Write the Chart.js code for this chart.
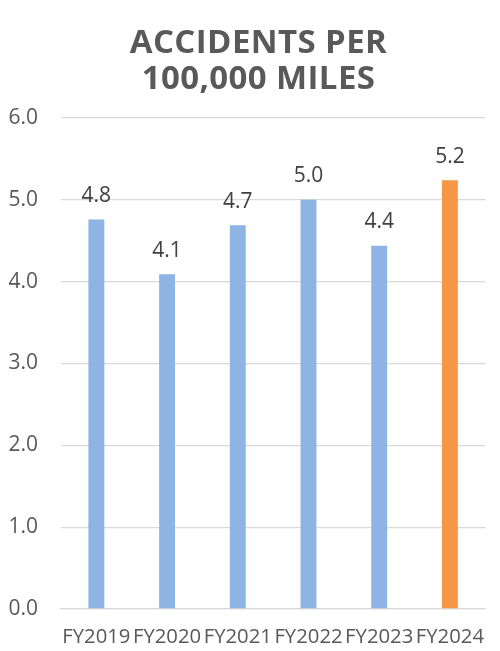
<!DOCTYPE html>
<html>
<head>
<meta charset="utf-8">
<script src="https://cdn.jsdelivr.net/npm/chart.js@4/dist/chart.umd.min.js"></script>
<style>
  html, body { margin: 0; padding: 0; background: #ffffff; }
  #wrap { width: 500px; height: 651px; position: relative; }
</style>
</head>
<body>
<div id="wrap"><canvas id="chart" width="500" height="651"></canvas></div>
<script>
// Fiscal years shown on the x axis
const categories = ['FY2019', 'FY2020', 'FY2021', 'FY2022', 'FY2023', 'FY2024'];
// Accidents per 100,000 miles for each fiscal year
const accidentRates = [4.76, 4.09, 4.69, 5.00, 4.44, 5.24];
// Title lines
const titleLines = ['ACCIDENTS PER', '100,000 MILES'];

const BLUE = '#8EB4E3';
const ORANGE = '#F79646';
const barColors = categories.map((c, i) => i === categories.length - 1 ? ORANGE : BLUE);

const FONT = "'Open Sans', 'Liberation Sans', sans-serif";

// Two-line bold title centred over the plot
const titlePlugin = {
  id: 'twoLineTitle',
  afterDraw(chart) {
    const ctx = chart.ctx;
    ctx.save();
    ctx.fillStyle = '#595959';
    ctx.font = "bold 33px " + FONT;
    if ('letterSpacing' in ctx) ctx.letterSpacing = '0.4px';
    ctx.textAlign = 'center';
    ctx.textBaseline = 'alphabetic';
    ctx.fillText(titleLines[0], 258.5, 52.7);
    ctx.fillText(titleLines[1], 258.5, 89.3);
    ctx.restore();
  }
};

// Value labels above each bar
const valueLabels = {
  id: 'valueLabels',
  afterDatasetsDraw(chart) {
    const ctx = chart.ctx;
    const meta = chart.getDatasetMeta(0);
    const values = chart.data.datasets[0].data;
    ctx.save();
    ctx.fillStyle = '#404040';
    ctx.font = "21px " + FONT;
    ctx.textAlign = 'center';
    ctx.textBaseline = 'alphabetic';
    meta.data.forEach((bar, i) => {
      ctx.fillText(values[i].toFixed(1), bar.x, bar.y - 17.5);
    });
    ctx.restore();
  }
};

new Chart(document.getElementById('chart'), {
  type: 'bar',
  data: {
    labels: categories,
    datasets: [{
      data: accidentRates,
      backgroundColor: barColors,
      borderWidth: 0,
      categoryPercentage: 1.0,
      barPercentage: 0.225
    }]
  },
  options: {
    responsive: false,
    animation: false,
    layout: { padding: { top: 118, left: 0, right: 0, bottom: 0 } },
    plugins: {
      legend: { display: false },
      title: { display: false },
      tooltip: { enabled: false }
    },
    scales: {
      x: {
        grid: { display: false, drawTicks: false },
        border: { display: true, color: '#D9D9D9', width: 1.3 },
        ticks: {
          color: '#595959',
          font: { family: FONT, size: 20.3 },
          padding: 16,
          maxRotation: 0,
          autoSkip: false
        },
        afterFit(scale) { scale.height = 42; }
      },
      y: {
        min: 0,
        max: 6,
        grid: { color: '#D9D9D9', lineWidth: 1.3, drawTicks: false },
        border: { display: false },
        ticks: {
          stepSize: 1,
          color: '#595959',
          font: { family: FONT, size: 21 },
          padding: 23,
          callback: (v) => Number(v).toFixed(1)
        },
        afterFit(scale) { scale.width = 61; }
      }
    }
  },
  plugins: [titlePlugin, valueLabels]
});
</script>
</body>
</html>
